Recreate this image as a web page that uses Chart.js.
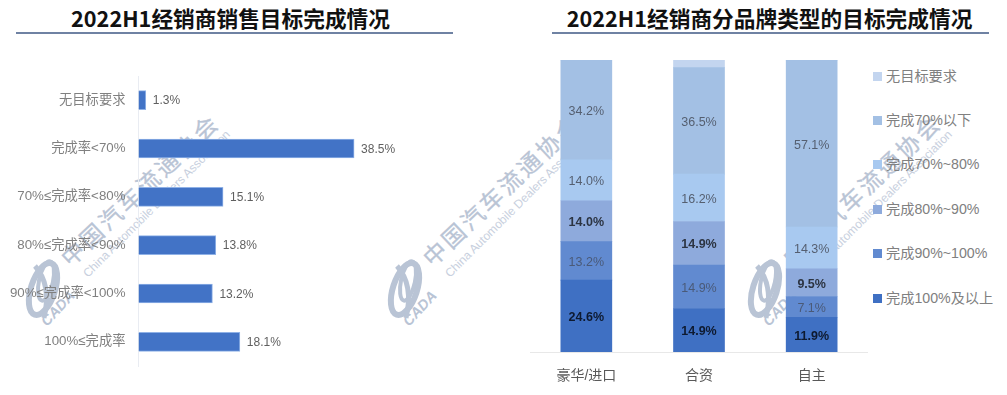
<!DOCTYPE html>
<html>
<head>
<meta charset="utf-8">
<script src="https://cdn.jsdelivr.net/npm/chart.js@4/dist/chart.umd.min.js"></script>
<style>
  html, body { margin: 0; padding: 0; background: #fff; overflow: hidden; }
  body { width: 1007px; height: 395px; position: relative; font-family: "Liberation Sans", "Noto Sans CJK SC", sans-serif; }
  .title { position: absolute; top: 3px; height: 30px; line-height: 30px; font-family: "Noto Sans CJK SC", sans-serif; font-size: 21.7px; font-weight: 700; color: #111; text-align: center; white-space: nowrap; }
  .rule { position: absolute; top: 32px; height: 2px; background: #6f82a3; }
  #marks { position: absolute; left: 0; top: 0; }
  .box { position: absolute; }
  #legend { position: absolute; left: 873px; top: 0; }
  .item { position: absolute; left: 0; white-space: nowrap; font-size: 14.2px; line-height: 20px; color: #808080; }
  .item i { position: absolute; left: 0; top: 6px; width: 9px; height: 9px; }
  .item span { margin-left: 13px; }
</style>
</head>
<body>
<svg id="marks" width="1007" height="395" xmlns="http://www.w3.org/2000/svg"></svg>
<div class="title" style="left:16px;width:437px;padding-right:8px;box-sizing:border-box">2022H1经销商销售目标完成情况</div>
<div class="rule" style="left:16px;width:437px"></div>
<div class="title" style="left:551px;width:437px">2022H1经销商分品牌类型的目标完成情况</div>
<div class="rule" style="left:552px;width:437px"></div>
<div class="box" style="left:0;top:60px;width:500px;height:320px"><canvas id="Cnvs1" width="500" height="320"></canvas></div>
<div class="box" style="left:530px;top:60px;width:338px;height:330px"><canvas id="Cnvs2" width="338" height="330"></canvas></div>
<div id="legend"></div>

<script>
// left chart
var targetCats = ['无目标要求', '完成率<70%', '70%≤完成率<80%', '80%≤完成率<90%', '90%≤完成率<100%', '100%≤完成率'];
var targetVals = [1.3, 38.5, 15.1, 13.8, 13.2, 18.1];

// right chart
var brandCats = ['豪华/进口', '合资', '自主'];
var done100 = [24.6, 14.9, 11.9];
var done90 = [13.2, 14.9, 7.1];
var done80 = [14.0, 14.9, 9.5];
var done70 = [14.0, 16.2, 14.3];
var doneLow = [34.2, 36.5, 57.1];
var noTarget = [0, 2.6, 0];

var seriesNames = ['完成100%及以上', '完成90%~100%', '完成80%~90%', '完成70%~80%', '完成70%以下', '无目标要求'];
var seriesColors = ['#3f70c3', '#618ad0', '#8eaadc', '#a8c9f0', '#a3c0e4', '#c3d5ef'];
var labelColors = ['#0e1a30', '#4a5a78', '#2c3442', '#555f70', '#555f70', null];
var labelBold = [true, false, true, false, false, false];

var cjk = '"Liberation Sans", "Noto Sans CJK SC", sans-serif';

// value labels, there is no datalabels plugin in the sandbox
var valueLabels = {
  id: 'valueLabels',
  afterDatasetsDraw: function(chart) {
    var ctx = chart.ctx;
    chart.data.datasets.forEach(function(ds, i) {
      if (!ds.labelColor) return;
      chart.getDatasetMeta(i).data.forEach(function(bar, j) {
        if (!ds.data[j]) return;
        ctx.save();
        ctx.fillStyle = ds.labelColor;
        ctx.font = (ds.labelBold ? '700 ' : '400 ') + ds.labelSize + 'px ' + cjk;
        ctx.textBaseline = 'middle';
        var text = ds.data[j].toFixed(1) + '%';
        if (ds.labelOutside) {
          ctx.textAlign = 'left';
          ctx.fillText(text, bar.x + 7, bar.y + 1);
        } else {
          ctx.textAlign = 'center';
          ctx.fillText(text, bar.x, (bar.y + bar.base) / 2 + 1.5);
        }
        ctx.restore();
      });
    });
  }
};

new Chart(document.getElementById('Cnvs1').getContext('2d'), {
  type: 'bar',
  data: {
    labels: targetCats,
    datasets: [{
      data: targetVals,
      backgroundColor: '#4273c6',
      borderColor: '#8fb1e6',
      borderWidth: 1,
      barThickness: 19,
      labelColor: '#5f5f5f',
      labelSize: 12,
      labelOutside: true
    }]
  },
  options: {
    indexAxis: 'y',
    responsive: false,
    animation: false,
    layout: { padding: { top: 16, bottom: 14, right: 81.5 } },
    plugins: { legend: { display: false }, tooltip: { enabled: false } },
    scales: {
      x: { display: false, min: 0, max: 50 },
      y: {
        afterFit: function(axis) {
          axis.width = 138.5;
          axis.paddingTop = 0;
          axis.paddingBottom = 0;
        },
        grid: { display: false, drawTicks: false },
        border: { color: '#e9ecf2' },
        ticks: { color: '#808080', padding: 13, font: { size: 13.3, family: cjk } }
      }
    }
  },
  plugins: [valueLabels]
});

var brandSeries = [done100, done90, done80, done70, doneLow, noTarget];

new Chart(document.getElementById('Cnvs2').getContext('2d'), {
  type: 'bar',
  data: {
    labels: brandCats,
    datasets: brandSeries.map(function(vals, i) {
      return {
        label: seriesNames[i],
        data: vals,
        backgroundColor: seriesColors[i],
        barThickness: 51,
        labelColor: labelColors[i],
        labelBold: labelBold[i],
        labelSize: 12.5
      };
    })
  },
  options: {
    responsive: false,
    animation: false,
    plugins: { legend: { display: false }, tooltip: { enabled: false } },
    scales: {
      x: {
        stacked: true,
        afterFit: function(axis) { axis.height = 38; },
        grid: { display: false, drawTicks: false },
        border: { color: '#e8e8e8' },
        ticks: { color: '#595959', padding: 16, font: { size: 14, family: cjk } }
      },
      y: { display: false, stacked: true, min: 0, max: 100 }
    }
  },
  plugins: [valueLabels]
});

// html legend, top row is the last series
var legendBox = document.getElementById('legend');
seriesNames.slice().reverse().forEach(function(name, i) {
  var row = document.createElement('div');
  row.className = 'item';
  row.style.top = (65.5 + i * 44.4) + 'px';
  row.innerHTML = '<i style="background:' + seriesColors[seriesNames.length - 1 - i] + '"></i><span>' + name + '</span>';
  legendBox.appendChild(row);
});

// watermark, sits behind the charts
var marks = '';
[0, 362, 722].forEach(function(dx) {
  marks += '<g transform="translate(' + dx + ',0)" fill="#b9c4d5" stroke="none">' +
    '<text transform="translate(70.5,267.8) rotate(-43.5)" font-size="23" letter-spacing="3" stroke="#b9c4d5" stroke-width="0.3" font-family=\'"Noto Sans CJK SC"\'>中国汽车流通协会</text>' +
    '<text transform="translate(88,278) rotate(-45)" font-size="12" fill="#c8d0de" textLength="202" font-family="Liberation Sans">China Automobile Dealers Association</text>' +
    '<g fill="none" stroke="#b9c4d5">' +
    '<ellipse cx="43" cy="289" rx="12" ry="27" stroke-width="6" transform="rotate(18 43 289)"/>' +
    '<ellipse cx="46" cy="281" rx="7" ry="20" stroke-width="4" transform="rotate(12 46 281)"/>' +
    '<path d="M35 266 Q52 285 44 318" stroke-width="5"/>' +
    '</g>' +
    '<text transform="translate(47,327) rotate(-47)" font-size="14.5" font-weight="700" font-style="italic" font-family="Liberation Sans">CADA</text>' +
    '</g>';
});
document.getElementById('marks').innerHTML = marks;
</script>
</body>
</html>
